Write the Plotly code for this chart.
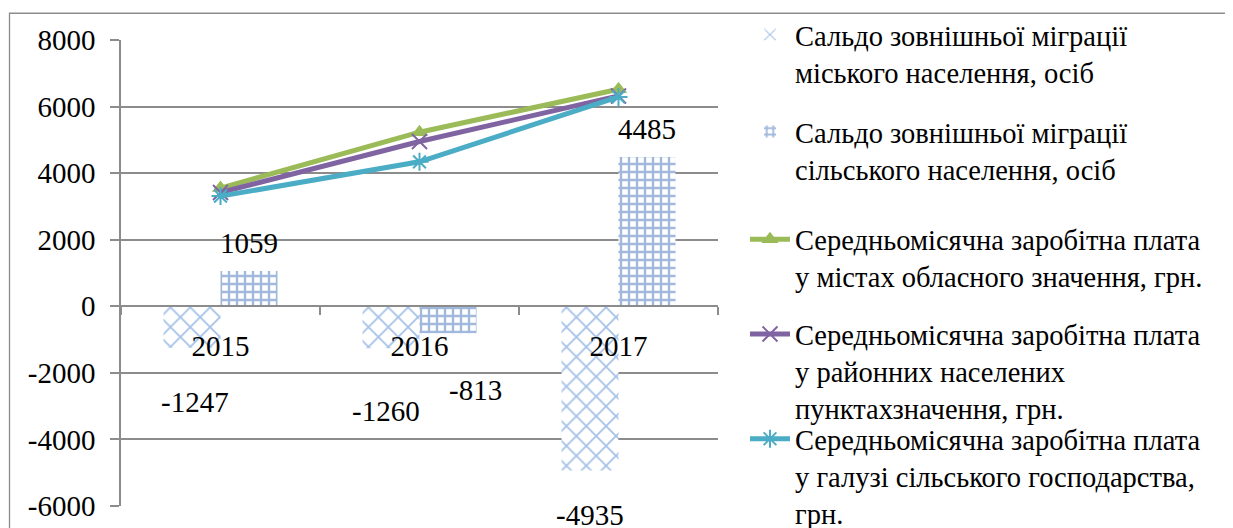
import plotly.graph_objects as go

# ---- data ----
years = ["2015", "2016", "2017"]
urban_migration = [-1247, -1260, -4935]
rural_migration = [1059, -813, 4485]
wage_cities = [3550, 5230, 6520]
wage_district = [3420, 4950, 6320]
wage_agri = [3310, 4340, 6290]

y_ticks = [-6000, -4000, -2000, 0, 2000, 4000, 6000, 8000]
y_ticktext = ["-6000", "-4000", "-2000", "0", "2000", "4000", "6000", "8000"]
Y_MIN, Y_MAX = -6000, 8000

name_urban = "Сальдо зовнішньої міграції<br>міського населення, осіб"
name_rural = "Сальдо зовнішньої міграції<br>сільського населення, осіб"
name_cities = "Середньомісячна заробітна плата<br>у містах обласного значення, грн."
name_district = "Середньомісячна заробітна плата<br>у районних населених<br>пунктахзначення, грн."
name_agri = "Середньомісячна заробітна плата<br>у галузі сільського господарства,<br>грн."

# label placement (data units, as placed in the original chart)
urban_label_y = [-2880, -3160, -6280]
urban_label_dx = [3, -5, 0]
rural_label_y = [1910, -2510, 5320]
rural_label_dx = [0, 27, 0]

FONT = "Liberation Serif"
FS = 29
FS_LEG = 28.5
GRID = "#8c8c8c"

W, H = 1233, 528
OFF = 8  # page body margin of the html page
L, R, T, B = 121, 718, 39.5, 506.5  # target plot-area edges on the page
pw, ph = R - L, B - T

def px_x(px):
    return (px - L) / pw

def px_y(py):
    return (B - py) / ph

xs = list(range(len(years)))
half = (57 / 199) / 2

fig = go.Figure()

fig.add_trace(go.Bar(
    x=xs, y=urban_migration, name=name_urban, legend="legend",
    marker=dict(color="white", line=dict(width=0),
                pattern=dict(shape="x", fgcolor="#4f86d0", bgcolor="white", size=14, solidity=0.25)),
))
fig.add_trace(go.Bar(
    x=xs, y=rural_migration, name=name_rural, legend="legend2",
    marker=dict(color="white", line=dict(width=0),
                pattern=dict(shape="+", fgcolor="#3f72b8", bgcolor="white", size=8, solidity=0.5)),
))
fig.add_trace(go.Scatter(
    x=xs, y=wage_cities, name=name_cities, legend="legend3", mode="lines+markers",
    line=dict(color="#9bbb59", width=5),
    marker=dict(symbol="triangle-up", size=15, color="#9bbb59"),
))
fig.add_trace(go.Scatter(
    x=xs, y=wage_district, name=name_district, legend="legend4", mode="lines+markers",
    line=dict(color="#8064a2", width=5),
    marker=dict(symbol="x-thin-open", size=15, color="#8064a2", line=dict(width=2, color="#8064a2")),
))
fig.add_trace(go.Scatter(
    x=xs, y=wage_agri, name=name_agri, legend="legend5", mode="lines+markers",
    line=dict(color="#4bacc6", width=5),
    marker=dict(symbol="asterisk-open", size=15, color="#4bacc6", line=dict(width=2, color="#4bacc6")),
))

# data labels
px_per_unit = ph / (Y_MAX - Y_MIN)

def label(x, ly, v, dx):
    y, ys = ly, 0
    if ly < Y_MIN:  # below the axis range: anchor at the bottom and shift down
        y, ys = Y_MIN, (ly - Y_MIN) * px_per_unit
    return dict(x=x, y=y, xref="x", yref="y", text=str(v), showarrow=False,
                xshift=dx, yshift=ys, font=dict(family=FONT, size=FS, color="black"))

annotations = []
for i, (v, ly, dx) in enumerate(zip(urban_migration, urban_label_y, urban_label_dx)):
    annotations.append(label(i - half, ly, v, dx))
for i, (v, ly, dx) in enumerate(zip(rural_migration, rural_label_y, rural_label_dx)):
    annotations.append(label(i + half, ly, v, dx))

zero_pos = (0 - Y_MIN) / (Y_MAX - Y_MIN)

legend_common = dict(
    font=dict(family=FONT, size=FS_LEG, color="black"),
    bgcolor="rgba(0,0,0,0)", borderwidth=0, xanchor="left", yanchor="top",
    x=px_x(745), tracegroupgap=0, itemwidth=40, valign="top",
)
leg_tops = [9, 106, 214, 309, 414]

def leg(idx):
    d = dict(legend_common)
    d["y"] = px_y(leg_tops[idx])
    return d

fig.update_layout(
    width=W, height=H,
    margin=dict(l=L - OFF, r=W - (R - OFF), t=T - OFF, b=H - (B - OFF), pad=0, autoexpand=False),
    paper_bgcolor="white", plot_bgcolor="white",
    barmode="group", bargap=1 - 2 * (57 / 199), bargroupgap=0,
    font=dict(family=FONT, size=FS, color="black"),
    showlegend=True,
    legend=leg(0), legend2=leg(1), legend3=leg(2), legend4=leg(3), legend5=leg(4),
    annotations=annotations,
    xaxis=dict(
        range=[-0.5, 2.5], tickvals=[-0.5, 0.5, 1.5, 2.5], ticktext=["", "", "", ""],
        anchor="free", position=zero_pos, showline=True, linecolor=GRID, linewidth=1.5,
        ticks="outside", ticklen=8, tickcolor=GRID, tickwidth=1.5,
        showgrid=False, zeroline=False,
    ),
    xaxis2=dict(
        range=[-0.5, 2.5], overlaying="x", side="bottom", anchor="free", position=zero_pos,
        tickvals=xs, ticktext=years, ticks="", showline=False, showgrid=False, zeroline=False,
        tickfont=dict(family=FONT, size=FS, color="black"), ticklabelstandoff=20,
    ),
    yaxis=dict(
        range=[Y_MIN, Y_MAX], tickvals=y_ticks, ticktext=y_ticktext,
        showgrid=True, gridcolor=GRID, gridwidth=1.5,
        zeroline=False, showline=True, linecolor=GRID, linewidth=1.5,
        ticks="outside", ticklen=9, tickcolor=GRID, tickwidth=1.5,
        tickfont=dict(family=FONT, size=FS, color="black"), ticklabelstandoff=9,
    ),
    shapes=[dict(type="rect", xref="paper", yref="paper",
                 x0=px_x(9.5), y0=px_y(560), x1=px_x(1260), y1=px_y(12.7),
                 line=dict(color="#8c8c8c", width=1.3), fillcolor="rgba(0,0,0,0)", layer="below")],
)

# invisible trace to bring xaxis2 labels into existence
fig.add_trace(go.Scatter(x=xs, y=[None] * len(xs), xaxis="x2", showlegend=False, hoverinfo="skip"))

fig.write_html("out.html")
